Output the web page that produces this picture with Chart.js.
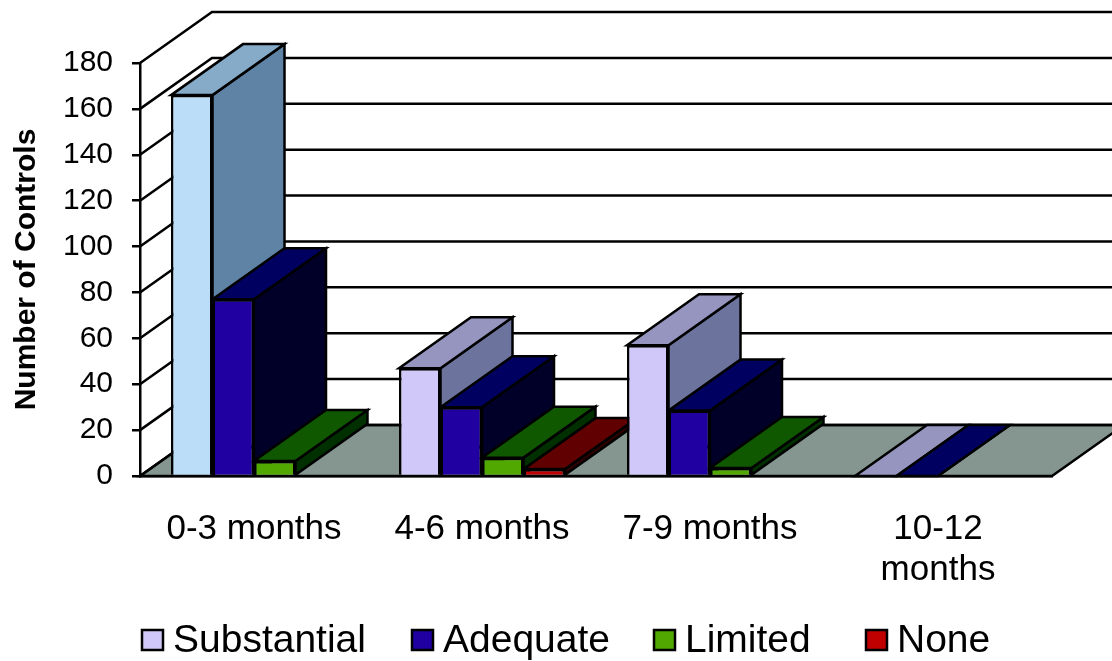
<!DOCTYPE html>
<html>
<head>
<meta charset="utf-8">
<title>Number of Controls</title>
<style>html,body{margin:0;padding:0;background:#fff;overflow:hidden}canvas{display:block}</style>
<script src="https://cdn.jsdelivr.net/npm/chart.js@4/dist/chart.umd.min.js"></script>
</head>
<body>
<canvas id="c" width="1112" height="661"></canvas>
<script>
const categories = ['0-3 months', '4-6 months', '7-9 months', ['10-12', 'months']];
const seriesNames = ['Substantial', 'Adequate', 'Limited', 'None'];
const substantial = [166, 47, 57, 0];
const adequate = [77, 30, 28.5, 0];
const limited = [6.5, 8, 3.5, null];
const none = [null, 3, null, null];
const yTicks = { min: 0, max: 180, step: 20 };

// front, top and side shades of each series
const frontColors = ['#d0c8f8', '#2000a0', '#50a800', '#c00000'];
const topColors = ['#9595c0', '#000060', '#105800', '#600000'];
const sideColors = ['#6c749e', '#000028', '#003000', '#300000'];
// the tall first bar is tinted blue
const firstBarFront = '#bbddf8', firstBarTop = '#86abc8', firstBarSide = '#5f83a5';

const FLOOR = '#84968f';
const DEPTH_X = 72, DEPTH_Y = -51;
const LINE = 2.5;
const FONT = '"Liberation Sans", Arial, sans-serif';
const legendBoxX = [142, 412, 654, 866];

function poly(ctx, pts, fill) {
  ctx.beginPath();
  pts.forEach((p, i) => i ? ctx.lineTo(p[0], p[1]) : ctx.moveTo(p[0], p[1]));
  ctx.closePath();
  if (fill) { ctx.fillStyle = fill; ctx.fill(); }
  ctx.stroke();
}

const depthPlugin = {
  id: 'depth',
  beforeDatasetsDraw(chart) {
    const { ctx, chartArea: a, scales: { y } } = chart;
    ctx.save();
    ctx.strokeStyle = '#000';
    ctx.lineWidth = LINE;
    ctx.lineJoin = 'miter';

    // floor
    poly(ctx, [[a.left, a.bottom], [a.left + DEPTH_X, a.bottom + DEPTH_Y],
               [a.right + DEPTH_X, a.bottom + DEPTH_Y], [a.right, a.bottom]], FLOOR);

    // side wall and back wall rules at each tick
    y.ticks.forEach(t => {
      const py = y.getPixelForValue(t.value);
      ctx.beginPath();
      ctx.moveTo(a.left, py);
      ctx.lineTo(a.left + DEPTH_X, py + DEPTH_Y);
      ctx.lineTo(chart.width, py + DEPTH_Y);
      ctx.stroke();
    });

    // extruded faces, left to right so nearer bars overlap
    const count = categories.length;
    for (let c = 0; c < count; c++) {
      chart.data.datasets.forEach((ds, d) => {
        if (ds.data[c] === null) return;
        const el = chart.getDatasetMeta(d).data[c];
        const l = el.x - el.width / 2, r = el.x + el.width / 2;
        const first = c === 0 && d === 0;
        poly(ctx, [[r, el.y], [r + DEPTH_X, el.y + DEPTH_Y],
                   [r + DEPTH_X, el.base + DEPTH_Y], [r, el.base]],
             first ? firstBarSide : sideColors[d]);
        poly(ctx, [[l, el.y], [l + DEPTH_X, el.y + DEPTH_Y],
                   [r + DEPTH_X, el.y + DEPTH_Y], [r, el.y]],
             first ? firstBarTop : topColors[d]);
      });
    }
    ctx.restore();
  },
  afterDraw(chart) {
    const { ctx } = chart;
    ctx.save();
    ctx.font = '39px ' + FONT;
    ctx.textBaseline = 'alphabetic';
    seriesNames.forEach((name, i) => {
      const x = legendBoxX[i];
      ctx.fillStyle = frontColors[i];
      ctx.strokeStyle = '#000';
      ctx.lineWidth = LINE;
      ctx.fillRect(x, 630, 21, 20);
      ctx.strokeRect(x, 630, 21, 20);
      ctx.fillStyle = '#000';
      ctx.fillText(name, x + 31, 652);
    });
    ctx.restore();
  }
};

const seriesValues = [substantial, adequate, limited, none];
new Chart(document.getElementById('c'), {
  type: 'bar',
  data: {
    labels: categories,
    datasets: seriesNames.map((name, i) => ({
      label: name,
      data: seriesValues[i],
      backgroundColor: categories.map((_, c) => (c === 0 && i === 0) ? firstBarFront : frontColors[i]),
      borderColor: '#000',
      borderWidth: LINE,
      barPercentage: 1,
      categoryPercentage: 0.728
    }))
  },
  plugins: [depthPlugin],
  options: {
    responsive: false,
    animation: false,
    events: [],
    layout: { padding: { top: 63, right: 60, left: 0, bottom: 0 } },
    plugins: { legend: { display: false }, tooltip: { enabled: false } },
    scales: {
      x: {
        grid: { display: false },
        border: { display: true, color: '#000', width: LINE },
        ticks: { color: '#000', font: { family: FONT, size: 35, lineHeight: 1.16 }, padding: 25, maxRotation: 0, autoSkip: false },
        afterFit(s) { s.height = 185; }
      },
      y: {
        min: yTicks.min, max: yTicks.max,
        grid: { drawOnChartArea: false, drawTicks: true, tickLength: 8, color: '#000', lineWidth: LINE },
        border: { display: true, color: '#000', width: LINE },
        ticks: { stepSize: yTicks.step, color: '#000', font: { family: FONT, size: 30 }, padding: 19 },
        title: { display: true, text: 'Number of Controls', color: '#000', font: { family: FONT, size: 30, weight: 'bold' }, padding: { top: 9, bottom: 0 } },
        afterFit(s) { s.width = 140; }
      }
    }
  }
});
</script>
</body>
</html>
